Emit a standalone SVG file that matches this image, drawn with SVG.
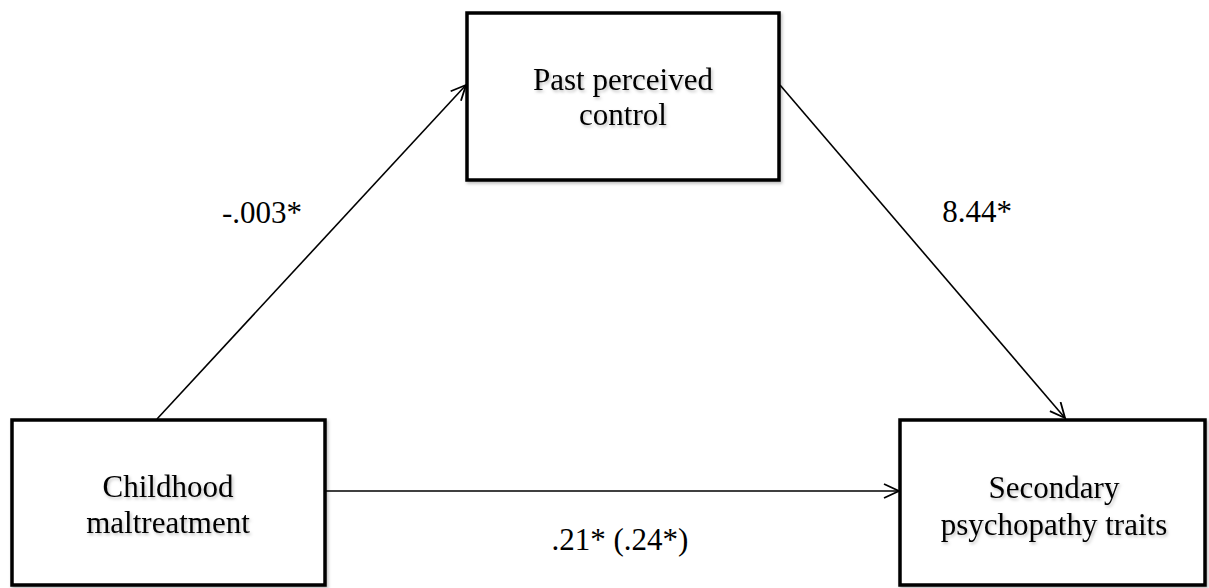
<svg xmlns="http://www.w3.org/2000/svg" width="1209" height="588" viewBox="0 0 1209 588">
<style>
.box{fill:#fff;stroke:#000;stroke-width:3.5;filter:url(#sh)}
.lbl{font-family:"Liberation Serif","Times New Roman",serif;font-size:31px;fill:#000;text-anchor:middle}
.node text{filter:url(#sh)}
.conn{stroke:#000;stroke-width:1.6;fill:none;marker-end:url(#arr)}
</style>
<defs>
<filter id="sh" x="-10%" y="-10%" width="120%" height="130%">
<feDropShadow dx="1.5" dy="2" stdDeviation="1.5" flood-color="#000" flood-opacity="0.25"/>
</filter>
<marker id="arr" markerUnits="userSpaceOnUse" markerWidth="20" markerHeight="20" refX="16" refY="8" orient="auto">
<path d="M1,1 L16,8 L1,15" fill="none" stroke="#000" stroke-width="1.8"/>
</marker>
</defs>
<rect width="1209" height="588" fill="#fff"/>
<g id="connectors">
<line class="conn" x1="157" y1="419" x2="466" y2="85"/>
<line class="conn" x1="780" y1="85" x2="1065" y2="418"/>
<line class="conn" x1="325" y1="491" x2="899" y2="491"/>
</g>
<g id="node-past" class="node">
<rect class="box" x="467" y="13" width="312" height="167"/>
<text class="lbl" x="623" y="90">Past perceived</text>
<text class="lbl" x="623" y="125">control</text>
</g>
<g id="node-childhood" class="node">
<rect class="box" x="12" y="420" width="313" height="165"/>
<text class="lbl" x="168" y="497">Childhood</text>
<text class="lbl" x="168" y="533">maltreatment</text>
</g>
<g id="node-secondary" class="node">
<rect class="box" x="900" y="420" width="305" height="165"/>
<text class="lbl" x="1054" y="498">Secondary</text>
<text class="lbl" x="1054" y="535">psychopathy traits</text>
</g>
<g id="labels">
<text class="lbl" x="262" y="223">-.003*</text>
<text class="lbl" x="977" y="222">8.44*</text>
<text class="lbl" x="620" y="550">.21* (.24*)</text>
</g>
</svg>
